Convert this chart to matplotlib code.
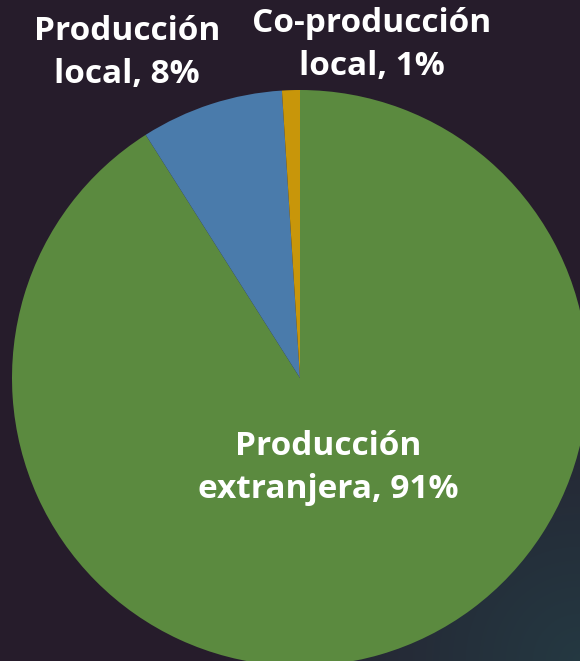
import numpy as np
import matplotlib.pyplot as plt

labels = ['Producción\nextranjera, 91%', 'Producción\nlocal, 8%', 'Co-producción\nlocal, 1%']
shares = [91, 8, 1]
colors = ['#5B8A3F', '#4A7BAB', '#C8960A']

W, H = 580, 661

fig = plt.figure(figsize=(W / 100, H / 100), dpi=100)
ax = fig.add_axes([0, 0, 1, 1])

# dark background with a slight teal glow in the lower right corner
yy, xx = np.mgrid[0:H, 0:W]
glow = np.clip(1 - np.hypot(xx - W, yy - H) / 380, 0, 1) * 0.8
base = np.array([0.15, 0.11, 0.17])
teal = np.array([0.14, 0.25, 0.28])
bg = base + glow[..., None] * (teal - base)
ax.imshow(bg, extent=[0, W, 0, H], origin='upper', zorder=0)

wedges, _ = ax.pie(shares, colors=colors, startangle=90, counterclock=False,
                   center=(300, H - 378), radius=288, frame=True,
                   wedgeprops=dict(linewidth=0))
for w in wedges:
    w.set_zorder(1)

font = dict(color='white', fontweight='bold', fontsize=24, family='Open Sans',
            ha='center', va='center', linespacing=1.42, zorder=3)
ax.text(328, H - 468, labels[0], **font)
ax.text(127, H - 53, labels[1], **font)
ax.text(372, H - 45, labels[2], **font)

ax.set_xlim(0, W)
ax.set_ylim(0, H)
ax.set_aspect('equal')
ax.axis('off')

fig.savefig('out.png', dpi=100)
